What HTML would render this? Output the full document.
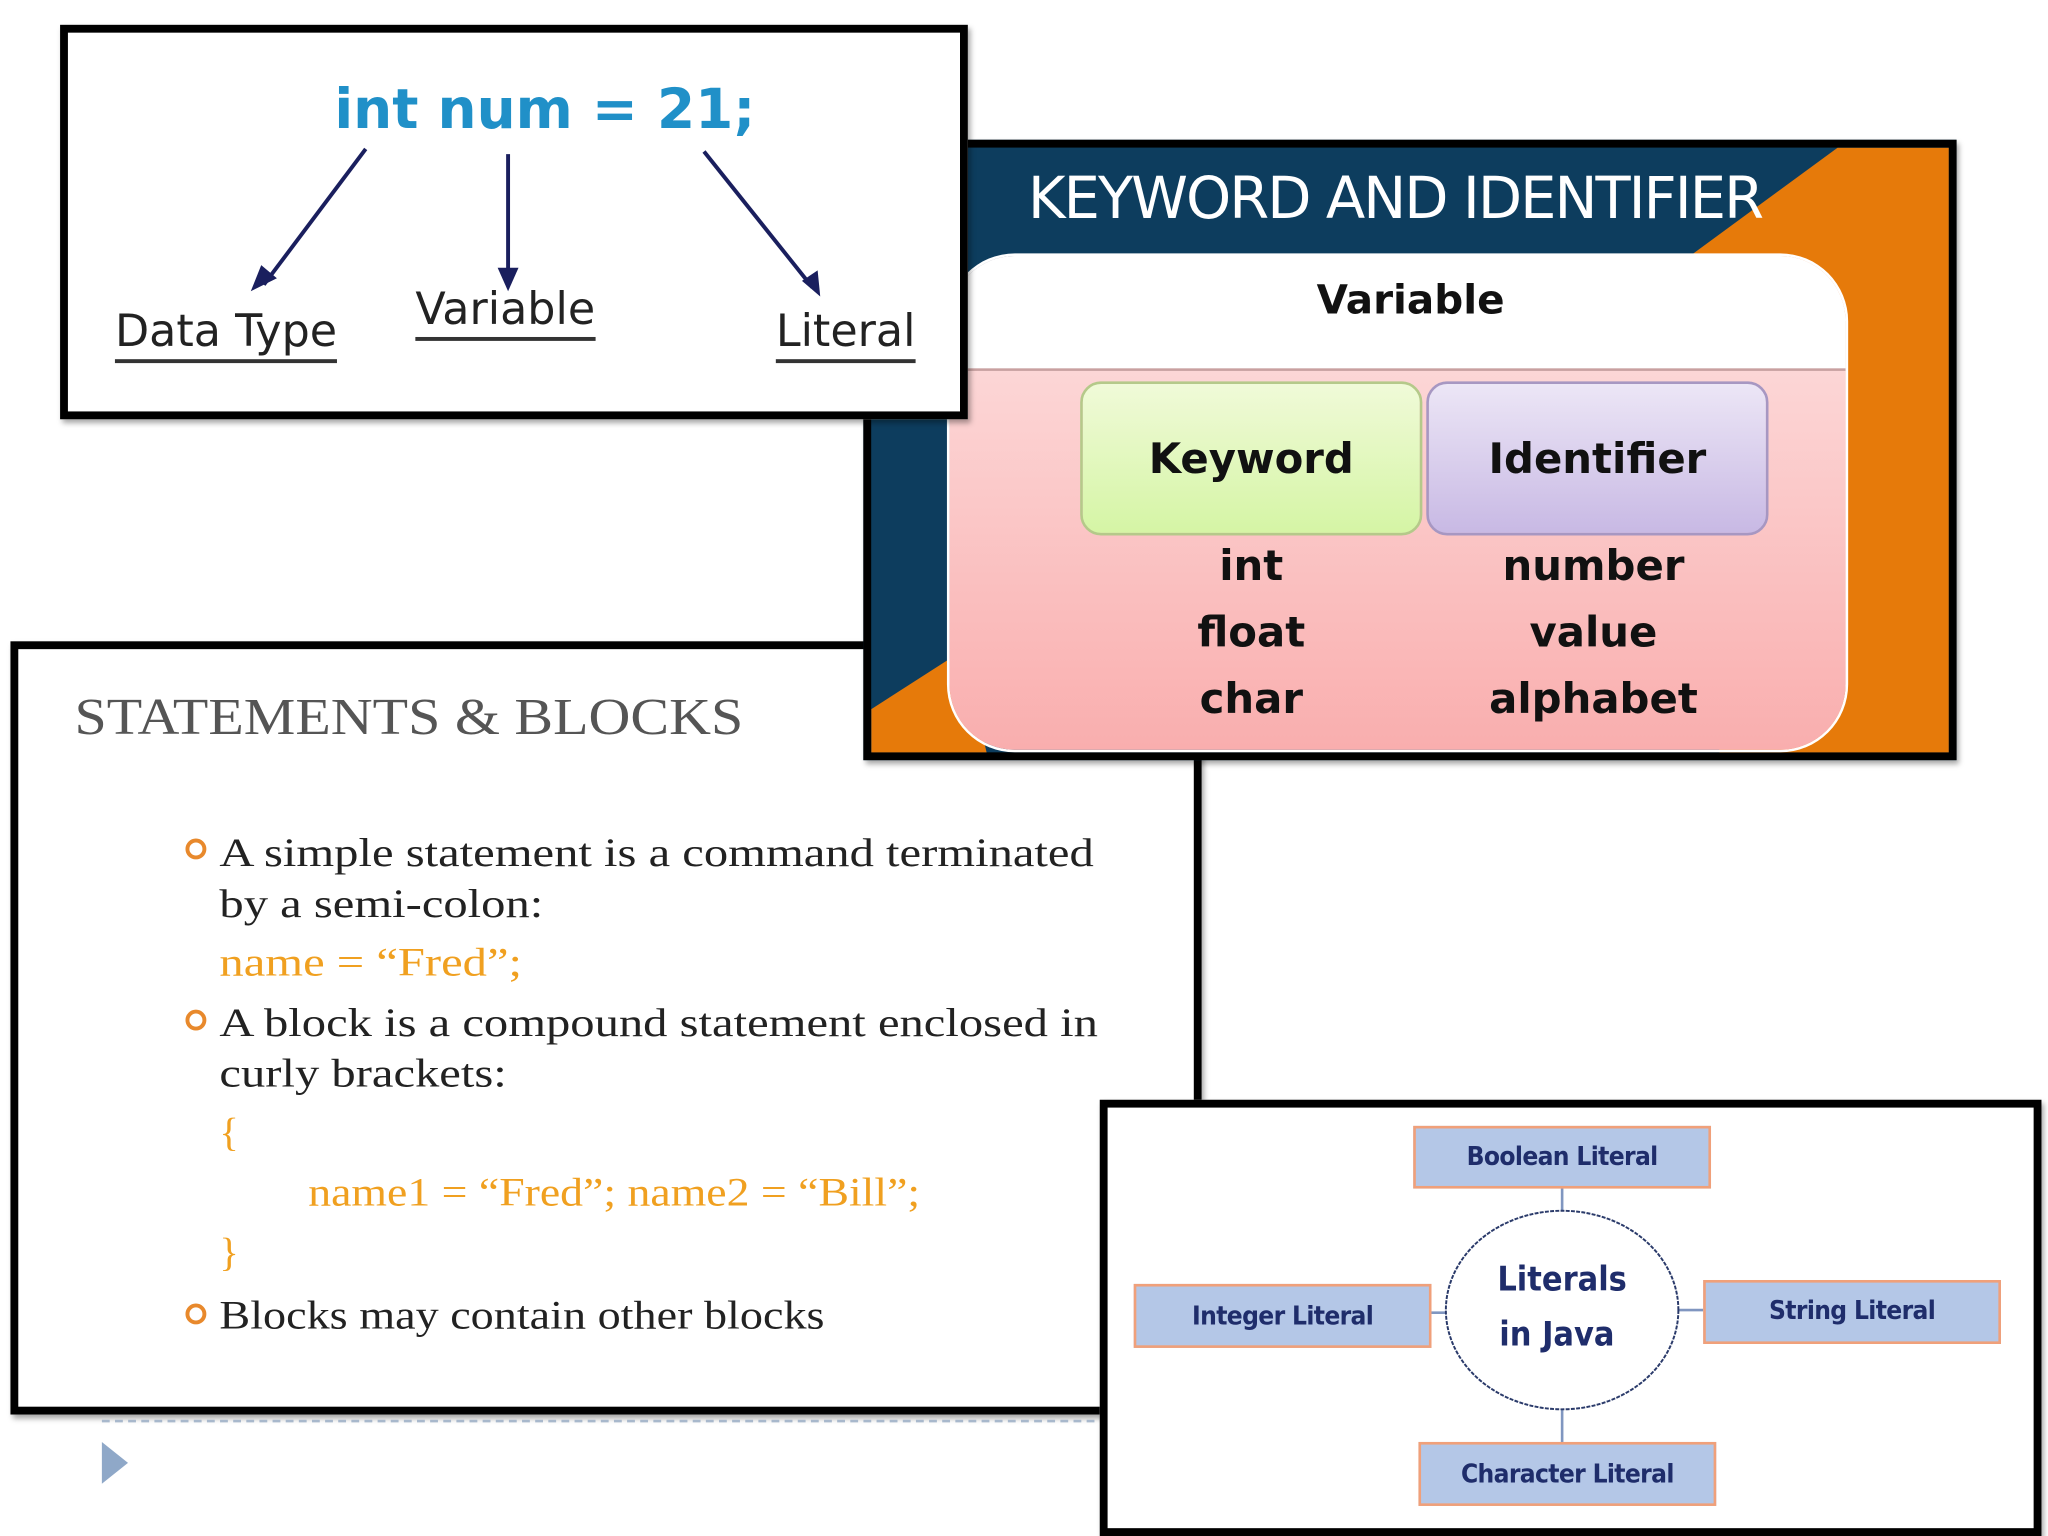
<!DOCTYPE html>
<html><head><meta charset="utf-8"><style>
html,body{margin:0;padding:0;background:#fff;width:2048px;height:1536px;overflow:hidden}
#w{position:absolute;left:0;top:0;width:1568px;height:1176px;transform:scale(1.306122);transform-origin:0 0}
.abs{position:absolute}
.box{position:absolute;box-sizing:border-box;border:6px solid #000;overflow:hidden;box-shadow:2px 3px 4px rgba(0,0,0,.35)}
.cal{font-family:"DejaVu Sans","Liberation Sans",sans-serif}
.ser{font-family:"Liberation Serif",serif;transform-origin:0 0;white-space:nowrap}
.sx{transform:scaleX(1.2)}
.lit{position:absolute;box-sizing:border-box;background:#b4c7e7;border:2px solid #f0a07a;color:#1f2d6b;font-family:"DejaVu Sans Condensed","Liberation Sans Narrow","Liberation Sans",sans-serif;font-weight:bold;font-size:20px;text-align:center;letter-spacing:-0.5px}
</style></head><body><div id="w">

<!-- Panel 3: statements -->
<div class="box" style="left:8px;top:491px;width:912px;height:592px;background:#fff">
 <div class="abs ser" style="left:43px;top:28px;font-size:40px;color:#555;transform:scaleX(1.11)">STATEMENTS &amp; BLOCKS</div>
 <div class="abs ser sx" style="left:154px;top:136px;font-size:31px;color:#222;line-height:39px">A simple statement is a command terminated<br>by a semi-colon:</div>
 <div class="abs ser sx" style="left:154px;top:222px;font-size:31px;color:#f0a020">name = “Fred”;</div>
 <div class="abs ser sx" style="left:154px;top:266px;font-size:31px;color:#222;line-height:39px">A block is a compound statement enclosed in<br>curly brackets:</div>
 <div class="abs ser" style="left:154px;top:352px;font-size:31px;color:#f0a020">{</div>
 <div class="abs ser" style="left:222px;top:398px;font-size:31px;color:#f0a020;transform:scaleX(1.13)">name1 = “Fred”; name2 = “Bill”;</div>
 <div class="abs ser" style="left:154px;top:444px;font-size:31px;color:#f0a020">}</div>
 <div class="abs ser" style="left:154px;top:492px;font-size:31px;color:#222;transform:scaleX(1.14)">Blocks may contain other blocks</div>
 <div class="abs" style="left:128px;top:145px;width:10px;height:10px;border:3px solid #e8892c;border-radius:50%"></div>
 <div class="abs" style="left:128px;top:276px;width:10px;height:10px;border:3px solid #e8892c;border-radius:50%"></div>
 <div class="abs" style="left:128px;top:501px;width:10px;height:10px;border:3px solid #e8892c;border-radius:50%"></div>
</div>
<div class="abs" style="left:78px;top:1087px;width:770px;border-top:2px dashed #a8b8cc"></div>
<svg class="abs" style="left:76px;top:1102px" width="26" height="36"><polygon points="2,2 22,18 2,34" fill="#8fa8c8"/></svg>

<!-- Panel 2 -->
<div class="box" style="left:661px;top:107px;width:837px;height:475px;background:#0d3d5e">
 <svg class="abs" style="left:0;top:0" width="830" height="470">
  <polygon points="740,0 830,0 830,470 650,470 620,88" fill="#e67a0a"/>
  <polygon points="0,470 0,430 70,385 90,470" fill="#e67a0a"/>
 </svg>
 <div class="abs cal" style="left:120px;top:14px;font-size:44px;color:#fff;letter-spacing:-1.5px;white-space:nowrap">KEYWORD AND IDENTIFIER</div>
 <div class="abs" style="left:60px;top:83px;width:686px;height:378px;border-radius:50px;overflow:hidden;background:linear-gradient(#fde2e2,#f9aeae);box-shadow:0 0 0 2px #fff">
  <div class="abs" style="left:0;top:0;width:686px;height:86px;background:#fff;border-bottom:2px solid #c9a0a0"></div>
  <div class="abs cal" style="left:0;top:16px;width:706px;text-align:center;font-size:31px;font-weight:bold;color:#111">Variable</div>
  <div class="abs cal" style="left:100px;top:96px;width:262px;height:118px;box-sizing:border-box;border:2px solid #b5c98a;border-radius:16px;background:linear-gradient(#f0fad8,#d5f5a5);text-align:center;line-height:114px;font-size:32px;font-weight:bold;color:#111">Keyword</div>
  <div class="abs cal" style="left:365px;top:96px;width:262px;height:118px;box-sizing:border-box;border:2px solid #a797c2;border-radius:16px;background:linear-gradient(#ece6f6,#c8b9e4);text-align:center;line-height:114px;font-size:32px;font-weight:bold;color:#111">Identifier</div>
  <div class="abs cal" style="left:100px;top:212px;width:262px;text-align:center;font-size:32px;font-weight:bold;color:#111;line-height:51px">int<br>float<br>char</div>
  <div class="abs cal" style="left:362px;top:212px;width:262px;text-align:center;font-size:32px;font-weight:bold;color:#111;line-height:51px">number<br>value<br>alphabet</div>
 </div>
</div>

<!-- Panel 1 -->
<div class="box" style="left:46px;top:19px;width:695px;height:302px;background:#fff">
 <div class="abs cal" style="left:204px;top:34px;font-size:42px;font-weight:bold;color:#2090c8;white-space:nowrap">int num = 21;</div>
 <svg class="abs" style="left:0;top:0" width="690" height="300">
  <g stroke="#1a1f5e" stroke-width="3" fill="none">
   <line x1="228" y1="89" x2="150" y2="193"/>
   <line x1="337" y1="93" x2="337" y2="190"/>
   <line x1="487" y1="91" x2="570" y2="195"/>
  </g>
  <g fill="#1a1f5e">
   <polygon points="140,198 148,178 160,188"/>
   <polygon points="337,198 329,180 345,180"/>
   <polygon points="576,202 562,190 574,182"/>
  </g>
 </svg>
 <div class="abs cal" style="left:36px;top:208px;font-size:34px;color:#222;border-bottom:3px solid #333;line-height:42px">Data Type</div>
 <div class="abs cal" style="left:266px;top:191px;font-size:34px;color:#222;border-bottom:3px solid #333;line-height:42px">Variable</div>
 <div class="abs cal" style="left:542px;top:208px;font-size:34px;color:#222;border-bottom:3px solid #333;line-height:42px">Literal</div>
</div>

<!-- Panel 4 -->
<div class="box" style="left:842px;top:842px;width:721px;height:334px;background:#fff">
 <svg class="abs" style="left:0;top:0" width="715" height="330">
  <g stroke="#8096c0" stroke-width="2">
   <line x1="348" y1="60" x2="348" y2="84"/>
   <line x1="348" y1="230" x2="348" y2="258"/>
   <line x1="245" y1="157" x2="262" y2="157"/>
   <line x1="436" y1="155" x2="456" y2="155"/>
  </g>
  <ellipse cx="348" cy="155" rx="89" ry="76" fill="#fff" stroke="#2a3a6a" stroke-width="1.5" stroke-dasharray="3,1"/>
  <text x="348" y="140" text-anchor="middle" font-family="DejaVu Sans Condensed, Liberation Sans Narrow, sans-serif" font-weight="bold" font-size="26" fill="#1f2d6b">Literals</text>
  <text x="344" y="182" text-anchor="middle" font-family="DejaVu Sans Condensed, Liberation Sans Narrow, sans-serif" font-weight="bold" font-size="26" fill="#1f2d6b">in Java</text>
 </svg>
 <div class="lit" style="left:234px;top:14px;width:228px;height:48px;line-height:42px">Boolean Literal</div>
 <div class="lit" style="left:20px;top:135px;width:228px;height:49px;line-height:44px">Integer Literal</div>
 <div class="lit" style="left:456px;top:132px;width:228px;height:49px;line-height:42px">String Literal</div>
 <div class="lit" style="left:238px;top:256px;width:228px;height:49px;line-height:44px">Character Literal</div>
</div>

</div></body></html>
